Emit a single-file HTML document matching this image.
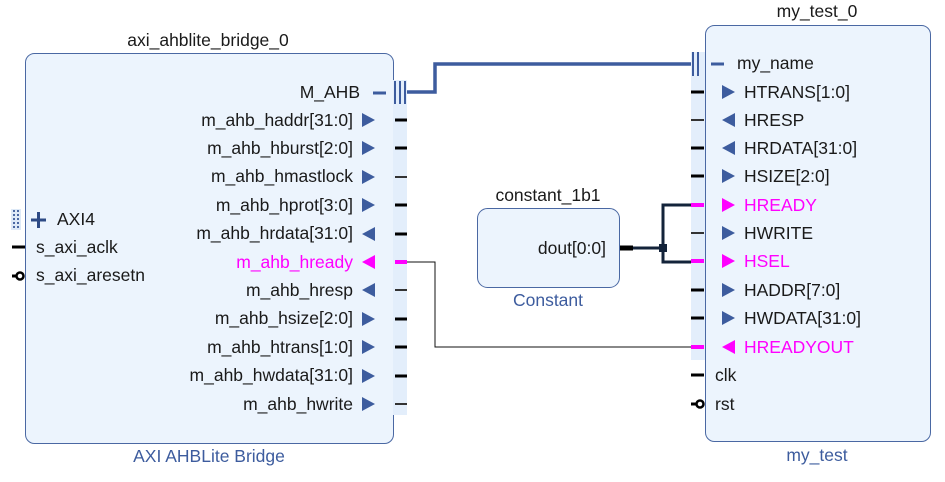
<!DOCTYPE html>
<html><head><meta charset="utf-8"><style>
html,body{margin:0;padding:0;background:#fff;width:945px;height:482px;overflow:hidden}
svg{display:block}
text{font-family:"Liberation Sans",sans-serif;font-size:17.5px;fill:#1a1a1a}
.r{text-anchor:end}
.m{text-anchor:middle}
.b{fill:#3d5c9e}
.p{fill:#ff00ff}
</style></head><body>
<svg width="945" height="482" viewBox="0 0 945 482" xmlns="http://www.w3.org/2000/svg">
<!-- left block -->
<rect x="25.5" y="53.5" width="368" height="390" rx="9" fill="#ecf4fd" stroke="#4a68a3" stroke-width="1"/>
<rect x="393" y="80" width="14" height="335" fill="#e3eefb"/>
<text x="208" y="46" class="m">axi_ahblite_bridge_0</text>
<text x="209" y="462" class="m b">AXI AHBLite Bridge</text>
<!-- M_AHB -->
<text x="360" y="98" class="r">M_AHB</text>
<line x1="373" y1="93" x2="386" y2="93" stroke="#3d5c9e" stroke-width="3"/>
<g stroke="#3d5c9e" stroke-width="2"><line x1="395" y1="81" x2="395" y2="104"/><line x1="400" y1="81" x2="400" y2="104"/><line x1="405" y1="81" x2="405" y2="104"/></g>
<polyline points="407,92 435,92 435,64 692,64" fill="none" stroke="#3d5c9e" stroke-width="3.5"/>
<!-- left block right ports -->
<g>
<text x="353" y="126" class="r">m_ahb_haddr[31:0]</text>
<text x="353" y="154" class="r">m_ahb_hburst[2:0]</text>
<text x="353" y="182" class="r">m_ahb_hmastlock</text>
<text x="353" y="211" class="r">m_ahb_hprot[3:0]</text>
<text x="353" y="239" class="r">m_ahb_hrdata[31:0]</text>
<text x="353" y="268" class="r p">m_ahb_hready</text>
<text x="353" y="296" class="r">m_ahb_hresp</text>
<text x="353" y="324" class="r">m_ahb_hsize[2:0]</text>
<text x="353" y="353" class="r">m_ahb_htrans[1:0]</text>
<text x="353" y="381" class="r">m_ahb_hwdata[31:0]</text>
<text x="353" y="410" class="r">m_ahb_hwrite</text>
</g>
<g fill="#3d5c9e">
<polygon points="362,113 375,120 362,127"/>
<polygon points="362,141 375,148 362,155"/>
<polygon points="362,170 375,177 362,184"/>
<polygon points="362,198 375,205 362,212"/>
<polygon points="375,227 362,234 375,241"/>
<polygon points="375,255 362,262 375,269" fill="#ff00ff"/>
<polygon points="375,283 362,290 375,297"/>
<polygon points="362,312 375,319 362,326"/>
<polygon points="362,340 375,347 362,354"/>
<polygon points="362,369 375,376 362,383"/>
<polygon points="362,397 375,404 362,411"/>
</g>
<g stroke="#000" stroke-width="3">
<line x1="395" y1="120" x2="407" y2="120"/>
<line x1="395" y1="148" x2="407" y2="148"/>
<line x1="395" y1="177" x2="407" y2="177" stroke-width="2" stroke="#333"/>
<line x1="395" y1="205" x2="407" y2="205"/>
<line x1="395" y1="234" x2="407" y2="234"/>
<line x1="395" y1="262" x2="407" y2="262" stroke="#ff00ff" stroke-width="4"/>
<line x1="395" y1="290" x2="407" y2="290" stroke-width="2" stroke="#333"/>
<line x1="395" y1="319" x2="407" y2="319"/>
<line x1="395" y1="347" x2="407" y2="347"/>
<line x1="395" y1="376" x2="407" y2="376"/>
<line x1="395" y1="404" x2="407" y2="404" stroke-width="2" stroke="#333"/>
</g>
<polyline points="407,262 435,262 435,347 692,347" fill="none" stroke="#111" stroke-width="1"/>
<!-- left side ports -->
<rect x="11" y="209" width="10" height="21" fill="#dde9f7"/>
<g fill="#4a68a3"><rect x="13" y="210" width="2" height="2"/><rect x="17" y="210" width="2" height="2"/><rect x="13" y="214" width="2" height="2"/><rect x="17" y="214" width="2" height="2"/><rect x="13" y="218" width="2" height="2"/><rect x="17" y="218" width="2" height="2"/><rect x="13" y="222" width="2" height="2"/><rect x="17" y="222" width="2" height="2"/><rect x="13" y="226" width="2" height="2"/><rect x="17" y="226" width="2" height="2"/></g>
<g stroke="#2d4a85" stroke-width="3"><line x1="31" y1="220" x2="46" y2="220"/><line x1="38.5" y1="212" x2="38.5" y2="228"/></g>
<text x="57" y="225">AXI4</text>
<line x1="12" y1="247" x2="25" y2="247" stroke="#000" stroke-width="3"/>
<text x="36" y="253">s_axi_aclk</text>
<line x1="12" y1="276" x2="17" y2="276" stroke="#000" stroke-width="3"/>
<circle cx="20" cy="276" r="3.5" fill="#fff" stroke="#000" stroke-width="2.5"/>
<text x="36" y="281">s_axi_aresetn</text>
<!-- constant -->
<rect x="477.5" y="208.5" width="142" height="79" rx="10" fill="#ecf4fd" stroke="#4a68a3"/>
<text x="548" y="201" class="m">constant_1b1</text>
<text x="548" y="306" class="m b">Constant</text>
<text x="606" y="254" class="r">dout[0:0]</text>
<line x1="620" y1="248" x2="633" y2="248" stroke="#000" stroke-width="5"/>
<polyline points="633,248 663,248" fill="none" stroke="#13233a" stroke-width="3"/>
<polyline points="692,205 663,205 663,262 692,262" fill="none" stroke="#13233a" stroke-width="3"/>
<rect x="659" y="244" width="8" height="8" fill="#13233a"/>
<!-- right block -->
<rect x="705.5" y="25.5" width="225" height="416" rx="9" fill="#ecf4fd" stroke="#4a68a3"/>
<rect x="691" y="52" width="14" height="308" fill="#e3eefb"/>
<text x="817" y="17" class="m">my_test_0</text>
<text x="817" y="461" class="m b">my_test</text>
<g stroke="#3d5c9e" stroke-width="2"><line x1="693" y1="52" x2="693" y2="76"/><line x1="698" y1="52" x2="698" y2="76"/></g>
<line x1="711" y1="64" x2="724" y2="64" stroke="#3d5c9e" stroke-width="3"/>
<text x="737" y="69">my_name</text>
<g>
<text x="744" y="98">HTRANS[1:0]</text>
<text x="744" y="126">HRESP</text>
<text x="744" y="154">HRDATA[31:0]</text>
<text x="744" y="182">HSIZE[2:0]</text>
<text x="744" y="211" class="p">HREADY</text>
<text x="744" y="239">HWRITE</text>
<text x="744" y="267" class="p">HSEL</text>
<text x="744" y="296">HADDR[7:0]</text>
<text x="744" y="324">HWDATA[31:0]</text>
<text x="744" y="353" class="p">HREADYOUT</text>
<text x="715" y="381">clk</text>
<text x="715" y="410">rst</text>
</g>
<g fill="#3d5c9e">
<polygon points="722,85 735,92 722,99"/>
<polygon points="735,113 722,120 735,127"/>
<polygon points="735,141 722,148 735,155"/>
<polygon points="722,169 735,176 722,183"/>
<polygon points="722,198 735,205 722,212" fill="#ff00ff"/>
<polygon points="722,226 735,233 722,240"/>
<polygon points="722,254 735,261 722,268" fill="#ff00ff"/>
<polygon points="722,283 735,290 722,297"/>
<polygon points="722,311 735,318 722,325"/>
<polygon points="735,340 722,347 735,354" fill="#ff00ff"/>
</g>
<g stroke="#000" stroke-width="3">
<line x1="691" y1="92" x2="704" y2="92"/>
<line x1="691" y1="120" x2="704" y2="120" stroke-width="2" stroke="#333"/>
<line x1="691" y1="148" x2="704" y2="148"/>
<line x1="691" y1="176" x2="704" y2="176"/>
<line x1="691" y1="205" x2="704" y2="205" stroke="#ff00ff" stroke-width="4"/>
<line x1="691" y1="233" x2="704" y2="233" stroke-width="2" stroke="#333"/>
<line x1="691" y1="261" x2="704" y2="261" stroke="#ff00ff" stroke-width="4"/>
<line x1="691" y1="290" x2="704" y2="290"/>
<line x1="691" y1="318" x2="704" y2="318"/>
<line x1="691" y1="347" x2="704" y2="347" stroke="#ff00ff" stroke-width="4"/>
<line x1="691" y1="375" x2="704" y2="375"/>
<line x1="691" y1="404" x2="696" y2="404"/>
</g>
<circle cx="700" cy="404" r="3.5" fill="#fff" stroke="#000" stroke-width="2.5"/>
</svg>
</body></html>
